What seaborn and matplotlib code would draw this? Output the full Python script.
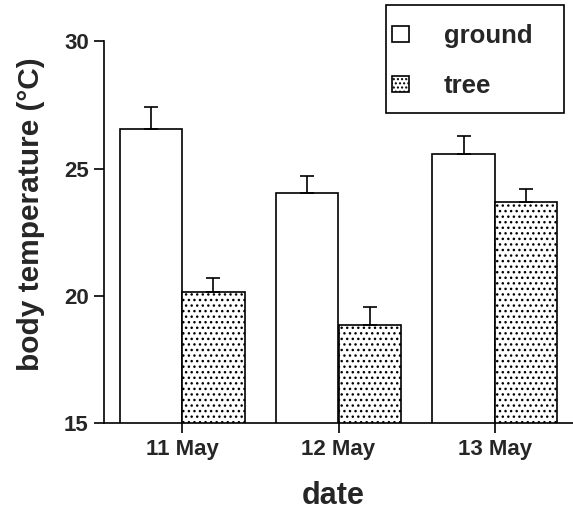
import matplotlib
matplotlib.use("Agg")
import matplotlib.pyplot as plt
from matplotlib.patches import Rectangle
import pandas as pd
import seaborn as sns

dates = ["11 May", "12 May", "13 May"]
sites = ["ground", "tree"]
ground_temp = [26.55, 24.03, 25.58]
tree_temp = [20.17, 18.86, 23.68]
ground_err = [0.88, 0.69, 0.70]
tree_err = [0.55, 0.70, 0.51]

df = pd.DataFrame({
    "date": dates * 2,
    "site": ["ground"] * 3 + ["tree"] * 3,
    "temp": ground_temp + tree_temp,
    "err": ground_err + tree_err,
})

sns.set_theme(style="ticks")
plt.rcParams["font.family"] = ["Liberation Sans", "DejaVu Sans"]
plt.rcParams["font.weight"] = "bold"
plt.rcParams["hatch.linewidth"] = 1.0
plt.rcParams["hatch.color"] = "black"

fig = plt.figure(figsize=(5.73, 5.11), dpi=100)
ax = fig.add_axes([104 / 573, 1 - 423.3 / 511, 1 - 104 / 573, (423.3 - 41.3) / 511])

sns.barplot(data=df, x="date", y="temp", hue="site", order=dates, hue_order=sites,
            palette=["white", "white"], errorbar=None, width=0.8,
            edgecolor="black", linewidth=1.2, saturation=1, ax=ax, legend=True)

# dotted fill for the tree bars
for cont, hatch in zip(ax.containers, ["", "..."]):
    for bar in cont:
        bar.set_hatch(hatch)

# one-sided error bars on top of each bar
for cont, site in zip(ax.containers, sites):
    sub = df[df["site"] == site].set_index("date").loc[dates]
    xs = [b.get_x() + b.get_width() / 2 for b in cont]
    ax.errorbar(xs, sub["temp"], yerr=[[0] * len(xs), sub["err"]], fmt="none",
                ecolor="black", elinewidth=1.2, capsize=5, capthick=1.2, zorder=3)

ax.set_ylim(15, 30)
ax.set_xlim(-0.5, 2.5)
ax.set_yticks([15, 20, 25, 30])
sns.despine(ax=ax)
for side in ["left", "bottom"]:
    ax.spines[side].set_linewidth(1.2)
    ax.spines[side].set_color("black")
ax.tick_params(axis="both", length=7, width=1.2, color="black", labelsize=16, pad=4)
for lab in ax.get_xticklabels() + ax.get_yticklabels():
    lab.set_fontweight("bold")

ax.set_xlabel("date", fontsize=22, fontweight="bold")
ax.set_ylabel("body temperature (°C)", fontsize=21.5, fontweight="bold")
ax.xaxis.set_label_coords(0.488, -0.152)
ax.yaxis.set_label_coords(-0.126, 0.548)

# legend in a box at the top right
handles, labels = ax.get_legend_handles_labels()
if ax.legend_:
    ax.legend_.remove()
for h, hatch in zip(handles, ["", "...."]):
    h.set_hatch(hatch)
    h.set_edgecolor("black")
    h.set_facecolor("white")
leg = fig.legend(handles, labels, loc="upper left", bbox_to_anchor=(392 / 573, 1 - 24 / 511),
                 frameon=False, fontsize=18.5, handlelength=0.66, handleheight=0.58,
                 handletextpad=1.36, labelspacing=1.03, borderpad=0, borderaxespad=0)
for t in leg.get_texts():
    t.set_fontweight("bold")
fig.patches.append(Rectangle((386 / 573, 1 - 113 / 511), (564 - 386) / 573, (113 - 5) / 511,
                             transform=fig.transFigure, fill=False, edgecolor="black",
                             linewidth=1.2, figure=fig))

fig.savefig("out.png", dpi=100)
